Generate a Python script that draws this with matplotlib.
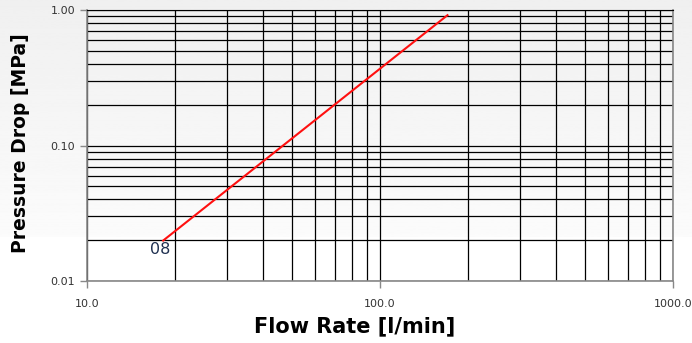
import numpy as np
import matplotlib.pyplot as plt
from matplotlib.ticker import FixedLocator, FixedFormatter, LogLocator, NullFormatter

# data
flow = [18.2, 170.0]        # l/min
pressure = [0.0199, 0.92]   # MPa
series_label = "08"

x_ticks = [10, 100, 1000]
x_tick_labels = ["10.0", "100.0", "1000.0"]
y_ticks = [0.01, 0.1, 1.0]
y_tick_labels = ["0.01", "0.10", "1.00"]

fig = plt.figure(figsize=(6.92, 3.43), dpi=100)

# faint grey shading at the top, fading to white
bg = fig.add_axes([0, 0, 1, 1], zorder=-10)
grad = np.linspace(0.94, 0.985, 256).reshape(-1, 1)
bg.imshow(grad, cmap='gray', vmin=0, vmax=1, aspect='auto', extent=[0, 1, 0.31, 1])
bg.set_xlim(0, 1)
bg.set_ylim(0, 1)
bg.axis('off')

ax = fig.add_axes([0.1257, 0.1808, 0.8468, 0.7892])
ax.set_facecolor('none')
ax.set_xscale('log')
ax.set_yscale('log')
ax.set_xlim(10, 1000)
ax.set_ylim(0.01, 1.0)

ax.plot(flow, pressure, color='#ff1010', lw=1.5, zorder=3)
ax.text(flow[0] + 1.0, pressure[0] * 0.98, series_label, ha='right', va='top',
        fontsize=11.5, color='#1f3050')

ax.xaxis.set_major_locator(FixedLocator(x_ticks))
ax.xaxis.set_major_formatter(FixedFormatter(x_tick_labels))
ax.yaxis.set_major_locator(FixedLocator(y_ticks))
ax.yaxis.set_major_formatter(FixedFormatter(y_tick_labels))
ax.xaxis.set_minor_locator(LogLocator(base=10, subs=np.arange(2, 10)))
ax.yaxis.set_minor_locator(LogLocator(base=10, subs=np.arange(2, 10)))
ax.xaxis.set_minor_formatter(NullFormatter())
ax.yaxis.set_minor_formatter(NullFormatter())

ax.grid(which='both', color='black', lw=0.9)
ax.tick_params(which='major', length=5, width=1, color='#888888',
               labelsize=8, labelcolor='#333333')
ax.tick_params(axis='x', which='major', pad=8)
ax.tick_params(which='minor', length=0)
for side in ['left', 'bottom', 'right']:
    ax.spines[side].set_color('#888888')
    ax.spines[side].set_linewidth(1.2)
ax.spines['top'].set_color('black')

ax.set_xlabel('Flow Rate [l/min]', fontsize=15, fontweight='bold')
ax.xaxis.set_label_coords(0.456, -0.13)
ax.set_ylabel('Pressure Drop [MPa]', fontsize=13.5, fontweight='bold')
ax.yaxis.set_label_coords(-0.098, 0.51)

fig.savefig('out.png', dpi=100)
